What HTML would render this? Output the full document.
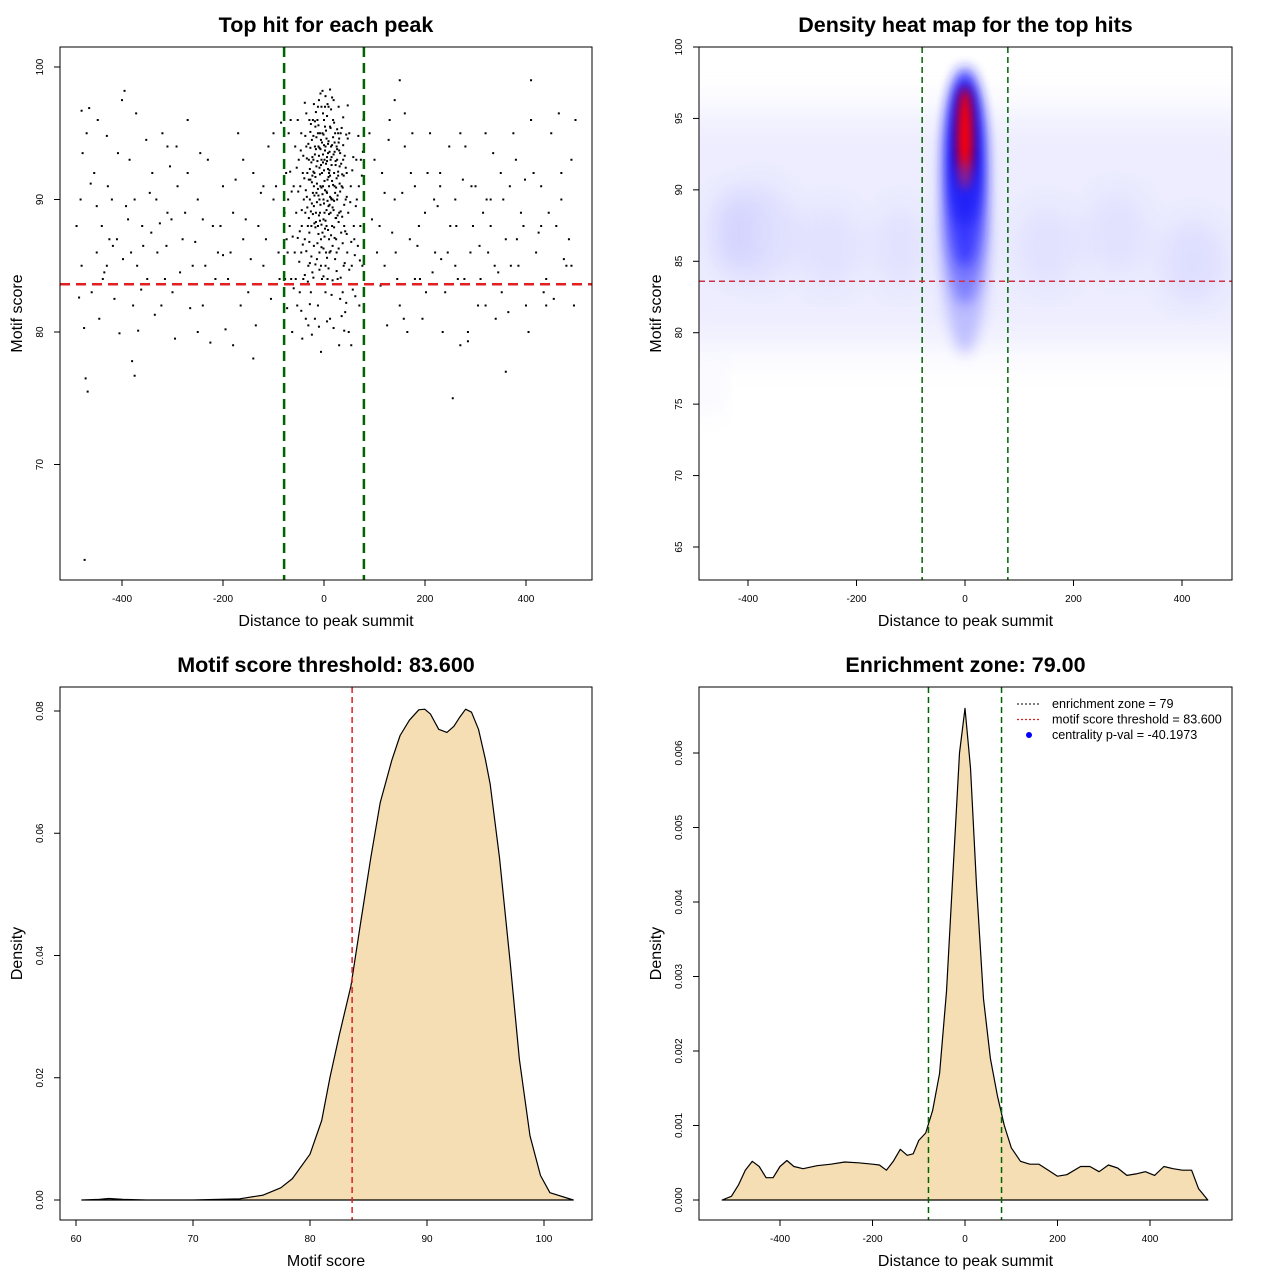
<!DOCTYPE html>
<html><head><meta charset="utf-8"><style>
html,body{margin:0;padding:0;background:#fff}
svg{display:block;font-family:"Liberation Sans",sans-serif}
</style></head><body>
<svg id="s" width="1280" height="1280" viewBox="0 0 1280 1280">
<defs>
<filter id="bl" x="-50%" y="-50%" width="200%" height="200%"><feGaussianBlur stdDeviation="14"/></filter>
<filter id="bl2" x="-50%" y="-50%" width="200%" height="200%"><feGaussianBlur stdDeviation="7"/></filter>
<filter id="bl4" x="-50%" y="-50%" width="200%" height="200%"><feGaussianBlur stdDeviation="5"/></filter>
<filter id="bl3" x="-50%" y="-50%" width="200%" height="200%"><feGaussianBlur stdDeviation="20"/></filter>
<clipPath id="c2"><rect x="699" y="47" width="533" height="533"/></clipPath>
</defs>
<g id="g"></g>
</svg>
<script>
// ---------- data ----------
const scatterPts = [
-5,93,3,94,10,92,-12,95,0,96,8,93.5,-20,91,15,90,-30,93,25,94,-8,89,5,88,12,95.5,-15,92.5,20,92,-2,91,30,89,-25,88,2,97,-10,97.5,
18,96,-18,94,6,90.5,-6,87,11,86,-14,85.5,24,87,-28,90,35,91,-35,94,1,93,7,91.5,-3,95,14,94,-22,96,28,95,-9,90,9,89.5,-1,88.5,4,86,
-16,89,16,88,-40,90,40,88,-45,86,45,92,-50,93,50,95,-55,89,55,85,-60,91,60,87,-65,84,65,90,-70,95,70,82,-4,84,3,83,-12,82,12,81,
0,92.2,5,94.6,-7,93.8,10,91,-11,94,13,93,-19,92,21,91,-24,94.5,26,93,-27,91.5,31,92.5,-33,92,33,95,-37,89,38,93,-42,92,43,90,-47,91,48,89,
-2,96.5,2,95.5,-5,97,6,96.3,-8,95,9,97,-13,96,14,96.8,-17,95.5,19,97.5,-21,93,22,95,-29,96,29,97,-32,88,34,87.5,-38,87,39,85,-44,88,46,86,
-1,90,1,89,-3,87.5,3,85,-6,85,7,84,-9,86,10,87,-12,88,13,89,-15,90.5,17,90,-20,86.5,22,85.5,-23,84.5,25,86,-26,83,27,84,-31,85,32,82.5,
-36,81,37,83,-41,84,42,81.5,-48,83,49,80,-53,82,54,79,-58,86,59,88,-63,80,64,93,-68,88,69,91,-72,86,73,93,-75,92,76,85,-78,89,78,96,
0,94.1,4,92.7,-4,92,8,94.2,-7,91,11,92.2,-10,93.3,15,93.2,-14,91.2,18,94.7,-18,93.4,23,92.6,-22,90.5,26,90,-25,92.8,28,91.8,-30,91.5,32,90.6,-34,90.2,36,91.9,
2,90.7,-2,93.4,6,92.9,-6,94.5,9,91.7,-9,92.4,12,90.2,-11,90.3,16,91.4,-16,93.8,19,89.2,-19,88.2,21,93.6,-21,94.8,24,90.9,-24,89.7,27,88.8,-27,93.9,30,93.7,-29,87.5,
1,87.2,-1,86.3,5,89.2,-5,90.9,8,87.7,-8,88.4,11,89.6,-11,87.4,14,87.3,-13,86.7,17,86.5,-17,87.9,20,89.9,-20,89.5,23,88.6,-23,91.8,26,95.3,-26,95.7,29,94.3,-28,85.2,
3,97.8,-3,98.2,7,97.2,-7,98,12,98.3,-12,97,16,97.7,-16,96.6,20,95.8,-20,97.2,-35,96.5,38,96.2,-45,95,47,94.6,-52,96,53,91,-57,94,58,93.2,-62,87.2,63,89.5,
-66,96,67,86.5,-71,90,72,88,-74,87,75,91.8,-77,84,77,93.6,-56,84,57,83.2,-43,79.5,44,82.2,-31,80.5,30,79,-18,81,19,80.3,-6,78.5,6,80.8,-24,79.8,40,80.1,
-41,93.3,-39,91.6,-37,94.8,-36,90.7,-34,93.1,-33,89.4,-31,94.2,-30,88.6,-28,92.3,-27,95.1,-26,89.1,-24,91.3,-23,93.2,-22,88.9,-21,92.1,-19,90.3,-18,95.9,-17,91.7,-16,88.3,-15,94.7,
-14,89.8,-13,92.9,-12,90.8,-11,95.6,-10,88.8,-9,93.9,-8,91.9,-7,89.6,-6,92.6,-5,88.1,-4,94.3,-3,90.4,-2,92.8,-1,94.9,0,89.7,1,91.4,2,93.7,3,88.4,4,95.2,5,90.6,
6,93.2,7,89.9,8,92.3,9,94.4,10,88.9,11,93.6,12,91.8,13,95.4,14,90.1,15,92.6,16,94.1,17,89.4,18,91.1,19,93.4,20,87.9,21,94.3,22,90.5,23,92.9,24,88.6,25,91.6,
26,93.8,27,90.3,28,92.1,29,88.3,30,94.6,31,91.2,32,93.5,33,89.1,34,92.7,35,95.4,36,88.7,37,90.9,38,94.1,39,91.8,40,89.6,41,93.3,42,87.6,43,92.4,44,94.9,45,90.2,
-44,89.2,-46,93.7,-48,87.6,-51,90.6,-54,92.4,-49,85.3,-42,86.6,-38,84.3,-35,86.1,-32,83.8,-29,86.8,-25,85.7,-21,84.1,-17,85.1,-13,83.6,-9,84.7,-5,86.4,-1,84.2,2,87.8,6,85.6,
9,84.8,13,86.1,17,83.9,21,87.1,25,84.6,29,86.3,33,84.1,37,86.7,41,85.2,45,87.4,50,84.7,52,89.8,56,92.2,61,85.8,47,97.1,-38,97.3,-45,81.6,-28,82.1,-10,80.4,15,82.8,
35,81.2,-52,87.1,54,86.8,-60,83.3,62,82.7,-67,92.1,68,94.8,-73,81.8,71,85.4,-64,90.6,
// background
-480,96.7,-465,96.9,-470,95,-455,92,-440,88,-430,94.8,-420,90,-410,87,-400,97.5,-395,98.2,-385,93,-375,90,-370,85,-360,88,-350,84,-340,92,-330,86,-320,95,-310,89,-300,83,
-290,91,-280,87,-270,96,-260,85,-250,90,-240,82,-230,93,-220,88,-210,86,-200,91,-190,84,-180,89,-170,95,-160,87,-150,83,-140,92,-130,88,-120,85,-110,94,-100,90,
-90,86,-85,95.8,-480,85,-475,80.3,-460,83,-450,86,-445,81,-435,84.5,-425,87,-415,82.5,-405,79.9,-398,85.5,-388,88.5,-378,82,-368,80.1,-358,86.5,-345,90.5,-335,81.3,-325,88.2,-315,84,-305,92.5,
-295,79.5,-285,84.5,-275,89,-265,81.8,-255,86.8,-245,93.5,-235,85,-225,79.2,-215,84,-205,88,-195,80.2,-185,86,-175,91.5,-165,82,-155,88.5,-145,85.5,-135,80.5,-125,90.5,-115,87,-105,82.5,
-95,91,-88,84,-482,90,-472,76.5,-468,75.5,-474,62.8,-450,89.5,-430,85,-380,77.8,-375,76.7,-310,94,-270,92,-240,88.5,-200,85.8,-160,93,-120,91,-100,95,-180,79,-140,78,-250,80,
-490,88,-485,82.6,-478,93.5,-462,91.2,-448,96,-438,84,-428,91,-418,86.5,-408,93.5,-392,89.5,-382,86,-372,96.5,-362,83.2,-352,94.5,-342,87.5,-332,90,-322,82,-312,86.5,-302,88.5,-292,94,
100,93,110,88,120,85,130,96,140,90,150,82,160,94,170,87,180,91,190,84,200,89,210,95,220,86,230,92,240,83,250,88,260,90,270,79,280,94,290,86,
300,91,310,84,320,95,330,88,340,81,350,92,360,87,370,85,380,93,390,89,400,82,410,96,420,86,430,91,440,84,450,95,460,88,470,90,480,85,490,93,
105,86,115,92,125,80.5,135,87.5,145,84,155,90.5,165,80,175,95,185,86.5,195,81,205,92,215,84.5,225,89.5,235,80,245,86,255,75,265,84,275,91.5,285,79.3,295,88,
305,82,315,89,325,86,335,93.5,345,84.5,355,90,365,81.5,375,95,385,85,395,88,405,80,415,92,425,87.5,435,83,445,89,455,82.5,465,96.5,475,85.5,485,87,495,82,
90,95,95,88.5,140,97.5,160,96.5,150,99,230,91,260,85,285,80,320,82,360,77,410,99,440,82,470,92,490,85,498,96,120,90.5,180,84,270,95,330,90,430,88,
112,83.5,128,94.5,142,86,158,81,172,92,188,88,202,83,218,90,232,85.5,248,94,262,88,278,84,292,91,308,86.5,322,90,338,85,352,83,368,91,382,87,398,91.5
];
// density heat blobs: x, y(score), sx(units), sy(score), opacity, color
const heatX=[0,0,0,0,0,-380,-250,-120,150,280,420,-470,-430];
const heatY=[88.5,91.5,92.5,93.6,87,87,86,86,86,87,85,76,87];
const heatSX=[45,34,28,15,36,70,60,50,60,60,60,20,40];
const heatSY=[10,7,5,3.6,5,3.5,3,3,3,3,3,2,3];
const heatO=[0.35,0.9,1,1,0.5,0.1,0.08,0.08,0.08,0.08,0.1,0.06,0.1];
const heatC=["#6060ff","#2020ff","#0000ee","#ff0000","#4040ff","#6060ff","#6060ff","#6060ff","#6060ff","#6060ff","#6060ff","#6060ff","#6060ff"];
// motif score density
const scoreX=[60.5,62,62.8,64,66,70,74,76,77.5,78.5,80,81,81.7,82.5,83.5,84.3,85.2,86,87,87.7,88.5,89.3,89.8,90.3,91,91.7,92.3,92.8,93.3,93.8,94.4,95,95.4,96.2,97.1,97.9,98.8,99.7,100.5,102.5];
const scoreY=[0,0.0001,0.00025,0.0001,0,0,0.0002,0.0008,0.002,0.0035,0.0075,0.013,0.02,0.027,0.035,0.045,0.056,0.065,0.072,0.076,0.0785,0.0802,0.0803,0.0795,0.077,0.0765,0.0775,0.079,0.0803,0.0798,0.077,0.072,0.068,0.056,0.039,0.023,0.0105,0.004,0.0012,0];
// distance density
const distX=[-525,-505,-490,-475,-460,-445,-430,-415,-400,-385,-370,-350,-320,-290,-260,-230,-200,-185,-170,-155,-140,-125,-112,-100,-85,-70,-55,-40,-25,-12,0,12,25,40,55,70,85,100,120,140,160,180,200,220,250,270,290,310,330,350,370,390,410,430,450,470,490,505,525];
const distY=[0,0.00005,0.0002,0.0004,0.00052,0.00045,0.0003,0.0003,0.00045,0.00053,0.00045,0.00042,0.00046,0.00048,0.00051,0.0005,0.00048,0.00047,0.0004,0.00052,0.00068,0.0006,0.00062,0.0008,0.0009,0.0012,0.0017,0.0028,0.0045,0.006,0.0066,0.0058,0.0042,0.0027,0.0019,0.0014,0.001,0.0007,0.00052,0.00048,0.00048,0.0004,0.00032,0.00034,0.00045,0.00045,0.00038,0.00047,0.00043,0.00033,0.00035,0.00038,0.00033,0.00045,0.00042,0.0004,0.0004,0.00015,0];
const xTicks1=[-400,-200,0,200,400];
const yTicks1=[70,80,90,100];
const yTicks2=[65,70,75,80,85,90,95,100];
const xTicks3=[60,70,80,90,100];
const yTicks3=[0,0.02,0.04,0.06,0.08];
const yTicks4=[0,0.001,0.002,0.003,0.004,0.005,0.006];
const zone=79, thr=83.6;

// ---------- helpers ----------
const NS="http://www.w3.org/2000/svg";
const G=document.getElementById('g');
function el(tag,attrs,parent){const e=document.createElementNS(NS,tag);for(const k in attrs)e.setAttribute(k,attrs[k]);(parent||G).appendChild(e);return e;}
function lin(d0,d1,r0,r1){return v=>r0+(v-d0)*(r1-r0)/(d1-d0);}
function txt(x,y,s,size,opts){const t=el('text',Object.assign({x:x,y:y,'font-size':size,'text-anchor':'middle',fill:'#000'},opts||{}));t.textContent=s;return t;}
function fmt(v,d){return d==null?String(v):v.toFixed(d);}

function panel(name,L,T,R,B,title,xlab,ylab,xs,ys,xt,yt,yd){
  const g=el('g',{});
  
  
  const tt=txt((L+R)/2,T-15,title,21.5,{'font-weight':'bold'});
  const xl=txt((L+R)/2,B+46,xlab,16);
  const cx=L-42,cy=(T+B)/2;
  const yl=txt(cx,cy,ylab,16,{transform:`rotate(-90 ${cx} ${cy})`,'dominant-baseline':'middle'});
  xt.forEach(v=>{const x=xs(v);const l=el('line',{x1:x,x2:x,y1:B,y2:B+6,stroke:'#000'});
    const t=txt(x,B+22,String(v),10);});
  yt.forEach(v=>{const y=ys(v);const l=el('line',{x1:L-6,x2:L,y1:y,y2:y,stroke:'#000'});
    const tx=L-17;const t=txt(tx,y,fmt(v,yd),10,{transform:`rotate(-90 ${tx} ${y})`});});
  return g;
}
function box(L,T,R,B,name){const r=el('rect',{x:L,y:T,width:R-L,height:B-T,fill:'none',stroke:'#000','stroke-width':1});}

// ---------- panel 1 ----------
{const L=60,T=47,R=592,B=580;
 const xs=lin(0,400,324,526), ys=lin(80,100,332,67);
 panel('scatter-panel',L,T,R,B,'Top hit for each peak','Distance to peak summit','Motif score',xs,ys,xTicks1,yTicks1);
 for(let i=0;i<scatterPts.length;i+=2){const c=el('rect',{x:xs(scatterPts[i])-1,y:ys(scatterPts[i+1])-1,width:2,height:2,fill:'#000'});
   }
 [-zone,zone].forEach(v=>{const l=el('line',{x1:xs(v),x2:xs(v),y1:T,y2:B,stroke:'#006400','stroke-width':2.5,'stroke-dasharray':'10,6'});});
 const h=el('line',{x1:L,x2:R,y1:ys(thr),y2:ys(thr),stroke:'#e02020','stroke-width':2.5,'stroke-dasharray':'10,6'});
 box(L,T,R,B,'scatter-plot-box');}

// ---------- panel 2 ----------
{const L=699,T=47,R=1232,B=580;
 const xs=lin(0,400,965,1182), ys=lin(65,100,547,47);
 panel('heatmap-panel',L,T,R,B,'Density heat map for the top hits','Distance to peak summit','Motif score',xs,ys,xTicks1,yTicks2);
 const hg=el('g',{'clip-path':'url(#c2)'});
 
 
 const band=el('rect',{x:L-40,y:ys(95.5),width:R-L+80,height:ys(79)-ys(95.5),fill:'#c8c8ff',opacity:0.32,filter:'url(#bl3)'},hg);
 
 for(let i=0;i<heatX.length;i++){
   const rx=Math.abs(xs(heatSX[i])-xs(0)), ry=Math.abs(ys(0)-ys(heatSY[i]));
   const f=(i===3)?'url(#bl4)':(i<5)?'url(#bl2)':'url(#bl)';
   const e=el('ellipse',{cx:xs(heatX[i]),cy:ys(heatY[i]),rx:rx,ry:ry,fill:heatC[i],opacity:heatO[i],filter:f},hg);
   }
 [-zone,zone].forEach(v=>{const l=el('line',{x1:xs(v),x2:xs(v),y1:T,y2:B,stroke:'#006400','stroke-width':1.5,'stroke-dasharray':'6,4'});});
 const h=el('line',{x1:L,x2:R,y1:ys(thr),y2:ys(thr),stroke:'#d03040','stroke-width':1.5,'stroke-dasharray':'6,4'});
 box(L,T,R,B,'heatmap-plot-box');}

// ---------- panel 3 ----------
{const L=60,T=687,R=592,B=1220;
 const xs=lin(60,100,76,544), ys=lin(0,0.08,1200,711);
 panel('score-density-panel',L,T,R,B,'Motif score threshold: 83.600','Motif score','Density',xs,ys,xTicks3,yTicks3,2);
 let d='M'+xs(scoreX[0])+','+ys(0);
 for(let i=0;i<scoreX.length;i++)d+=' L'+xs(scoreX[i]).toFixed(1)+','+ys(scoreY[i]).toFixed(1);
 d+=' L'+xs(scoreX[scoreX.length-1])+','+ys(0)+'Z';
 const p=el('path',{d:d,fill:'#f5deb3',stroke:'#000','stroke-width':1.2,'stroke-linejoin':'round'});
 const h=el('line',{x1:xs(thr),x2:xs(thr),y1:T,y2:B,stroke:'#e02020','stroke-width':1.5,'stroke-dasharray':'6,4'});
 box(L,T,R,B,'score-density-plot-box');}

// ---------- panel 4 ----------
{const L=699,T=687,R=1232,B=1220;
 const xs=lin(0,400,965,1150), ys=lin(0,0.006,1200,753);
 panel('distance-density-panel',L,T,R,B,'Enrichment zone: 79.00','Distance to peak summit','Density',xs,ys,xTicks1,yTicks4,3);
 let d='M'+xs(distX[0])+','+ys(0);
 for(let i=0;i<distX.length;i++)d+=' L'+xs(distX[i]).toFixed(1)+','+ys(distY[i]).toFixed(1);
 d+=' L'+xs(distX[distX.length-1])+','+ys(0)+'Z';
 const p=el('path',{d:d,fill:'#f5deb3',stroke:'#000','stroke-width':1.2,'stroke-linejoin':'round'});
 [-zone,zone].forEach(v=>{const l=el('line',{x1:xs(v),x2:xs(v),y1:T,y2:B,stroke:'#006400','stroke-width':1.5,'stroke-dasharray':'6,4'});});
 const lg=el('g',{});
 const rows=[['enrichment zone = 79','#333','line'],['motif score threshold = 83.600','#e02020','line'],['centrality p-val = -40.1973','#0000ff','dot']];
 rows.forEach((r,i)=>{const y=704+i*15.5;
   if(r[2]==='line'){const l=el('line',{x1:1017,x2:1041,y1:y,y2:y,stroke:r[1],'stroke-width':1.2,'stroke-dasharray':'2,2'},lg);}
   else{const c=el('circle',{cx:1029,cy:y,r:3,fill:r[1]},lg);}
   const t=txt(1052,y+4,r[0],12.6,{'text-anchor':'start'});lg.appendChild(t);});
 box(L,T,R,B,'distance-density-plot-box');}
</script>
</body></html>
